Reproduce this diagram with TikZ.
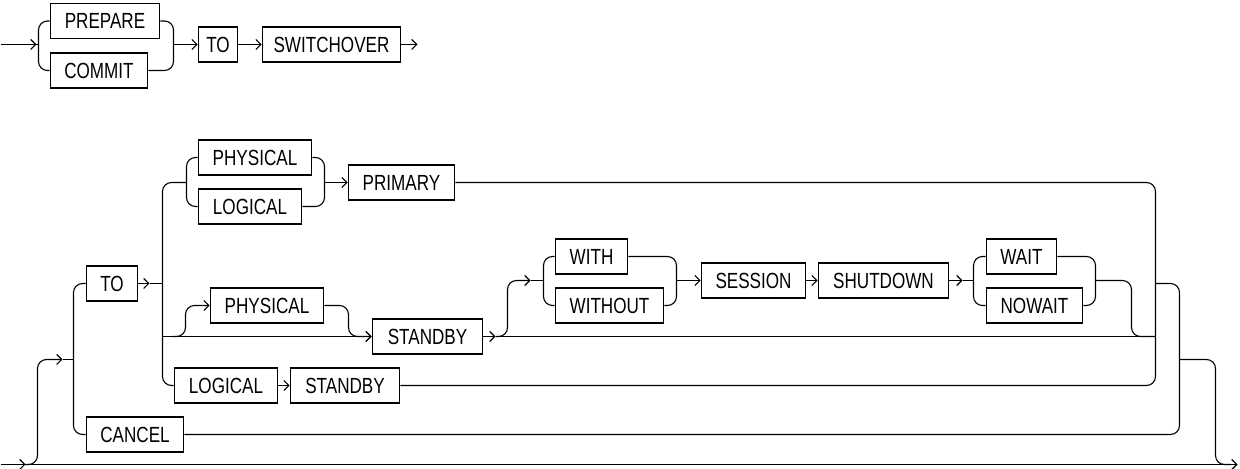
\documentclass[tikz,border=0pt]{standalone}
\usepackage{fontspec}
\setmainfont[FakeStretch=0.78]{Liberation Sans}
\usetikzlibrary{arrows.meta}
\tikzset{
  kw/.style={draw, line width=1.8bp, minimum height=35bp, inner sep=0pt,
    font=\fontsize{22}{22}\selectfont},
  ln/.style={line width=1.1bp, rounded corners=9bp},
  arr/.style={ln, -{Straight Barb[length=5bp,width=10bp]}},
}
\begin{document}
\begin{tikzpicture}[x=1bp,y=-1bp]
\useasboundingbox (-0.5,-0.5) rectangle (1239.5,468.5);

% ---------- top diagram ----------
\node[kw, minimum width=109bp] (prep)   at (104.5,20.5) {PREPARE};
\node[kw, minimum width=97bp]  (commit) at (98.5,70)    {COMMIT};
\node[kw, minimum width=39bp]  (to)     at (217.5,44)   {TO};
\node[kw, minimum width=138bp] (sw)     at (331,44)     {SWITCHOVER};

\coordinate (tstart) at (0,44);
\coordinate (tarr)   at (36,44);
\coordinate (tj1)    at (38,44);
\coordinate (tj2)    at (173,44);
\coordinate (tend)   at (417,44);

\draw[ln] (tstart) -- (tj1);
\draw[arr] (tstart) -- (tarr);
\draw[ln] (prep.west) -| (tj1) |- (commit.west);
\draw[ln] (prep.east) -| (tj2) |- (commit.east);
\draw[arr] (tj2) -- (to.west);
\draw[arr] (to.east) -- (sw.west);
\draw[arr] (sw.east) -- (tend);

% ---------- bottom diagram ----------
\node[kw, minimum width=51bp]  (to2)    at (111.5,283) {TO};
\node[kw, minimum width=97bp]  (cancel) at (134.5,434) {CANCEL};
\node[kw, minimum width=113bp] (phys1)  at (254.5,157) {PHYSICAL};
\node[kw, minimum width=103bp] (log1)   at (249.5,206) {LOGICAL};
\node[kw, minimum width=106bp] (prim)   at (401,182)   {PRIMARY};
\node[kw, minimum width=113bp] (phys2)  at (266.5,305) {PHYSICAL};
\node[kw, minimum width=110bp] (stb1)   at (427,336)   {STANDBY};
\node[kw, minimum width=72bp]  (with)   at (591,256)   {WITH};
\node[kw, minimum width=108bp] (without) at (609,305)  {WITHOUT};
\node[kw, minimum width=104bp] (sess)   at (753,280)   {SESSION};
\node[kw, minimum width=130bp] (shut)   at (883,280)   {SHUTDOWN};
\node[kw, minimum width=70bp]  (wait)   at (1021,256)  {WAIT};
\node[kw, minimum width=96bp]  (nowait) at (1034,305)  {NOWAIT};
\node[kw, minimum width=103bp] (log2)   at (225.5,385) {LOGICAL};
\node[kw, minimum width=109bp] (stb2)   at (344.5,385) {STANDBY};

% bypass line and entry
\coordinate (bstart) at (0,464);
\coordinate (barr)   at (25,464);
\coordinate (bend)   at (1237,464);
\draw[arr] (bstart) -- (bend);
\draw[arr] (bstart) -- (barr);
\coordinate (ea) at (62,359);
\coordinate (ej) at (73,359);
\draw[arr] (barr) -- (37,464) -- (37,359) -- (ea);
\draw[ln] (ea) -- (ej);
\draw[ln] (to2.west) -- (73,283) -- (73,434) -- (cancel.west);

% after TO
\coordinate (ta) at (149,283);
\coordinate (tj) at (162,283);
\draw[arr] (to2.east) -- (ta);
\draw[ln] (ta) -- (tj);
\coordinate (pj1) at (186,182);
\coordinate (pj2) at (324,182);
\draw[ln] (pj1) -- (162,182) -- (162,385) -- (log2.west);
\draw[ln] (phys1.west) -- (186,157) -- (186,206) -- (log1.west);
\draw[ln] (phys1.east) -- (324,157) -- (324,206) -- (log1.east);
\draw[arr] (pj2) -- (prim.west);
\draw[ln] (prim.east) -- (1155,182) -- (1155,385) -- (stb2.east);
\draw[arr] (log2.east) -- (stb2.west);

% standby row
\coordinate (sj) at (162,336);
\draw[arr] (sj) -- (stb1.west);
\draw[arr] (172,336) -- (185,336) -- (185,305) -- (phys2.west);
\draw[arr] (phys2.east) -- (348,305) -- (348,336) -- (stb1.west);
\coordinate (sa) at (495,336);
\coordinate (sr) at (1155,336);
\draw[arr] (stb1.east) -- (sa);
\draw[ln] (sa) -- (sr);
\coordinate (wa) at (530,280);
\coordinate (wj1) at (543,280);
\coordinate (wj2) at (676,280);
\draw[arr] (sa) -- (507,336) -- (507,280) -- (wa);
\draw[ln] (wa) -- (wj1);
\draw[ln] (with.west) -- (543,256) -- (543,305) -- (without.west);
\draw[ln] (with.east) -- (676,256) -- (676,305) -- (without.east);
\draw[arr] (wj2) -- (sess.west);
\draw[arr] (sess.east) -- (shut.west);
\coordinate (ha) at (962,280);
\coordinate (hj1) at (973,280);
\coordinate (hj2) at (1095,280);
\draw[arr] (shut.east) -- (ha);
\draw[ln] (ha) -- (hj1);
\draw[ln] (wait.west) -- (973,256) -- (973,305) -- (nowait.west);
\draw[ln] (wait.east) -- (1095,256) -- (1095,305) -- (nowait.east);
\draw[ln] (hj2) -- (1131,280) -- (1131,336) -- (sr);

% right collectors
\coordinate (rj1) at (1155,283);
\coordinate (rj2) at (1179,359);
\draw[ln] (cancel.east) -- (1179,434) -- (1179,283) -- (rj1);
\draw[ln] (rj2) -- (1215,359) -- (1215,464) -- (1230,464);
\end{tikzpicture}
\end{document}
